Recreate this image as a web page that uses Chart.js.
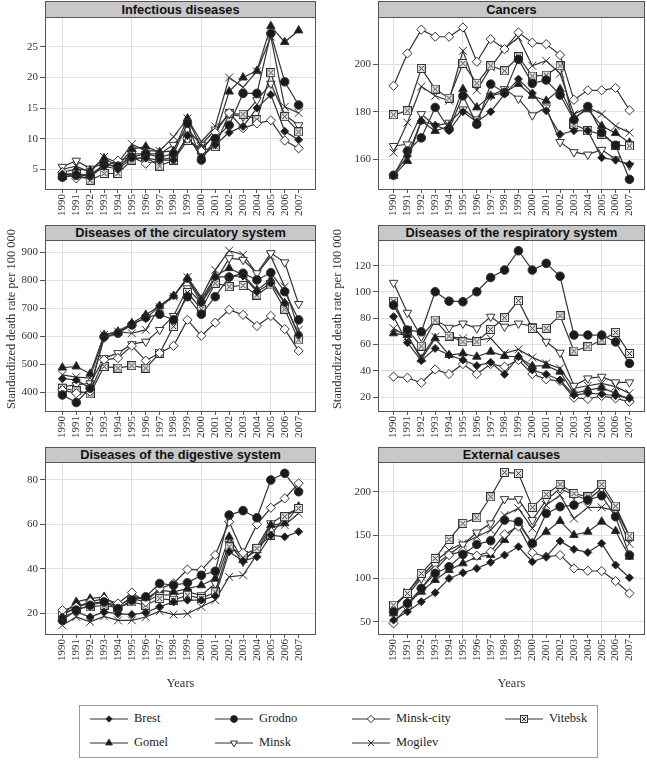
<!DOCTYPE html>
<html>
<head>
<meta charset="utf-8">
<script src="https://cdn.jsdelivr.net/npm/chart.js@4.4.0/dist/chart.umd.min.js"></script>
<style>
  body { margin: 0; background: #fff; width: 647px; height: 760px; position: relative; overflow: hidden; }
  canvas { position: absolute; }
  .strip { position: absolute; box-sizing: border-box; background: #c8c8c8; border: 1px solid #555;
           font: bold 12.8px "Liberation Sans", Arial, sans-serif; color: #111; text-align: center; }
  .legend { position: absolute; left: 79px; top: 705px; width: 519px; height: 53px; box-sizing: border-box;
            border: 1.5px solid #999; }
  .lab { position: absolute; font: 12.5px "Liberation Serif", "Times New Roman", serif; color: #222; }
  .ytitle { position: absolute; width: 240px; height: 16px; line-height: 16px; text-align: center; white-space: nowrap;
            font: 12.5px "Liberation Serif", "Times New Roman", serif; color: #333;
            transform: translate(-50%, -50%) rotate(-90deg); }
</style>
</head>
<body>
<script>
// years and regions
const years = [1990, 1991, 1992, 1993, 1994, 1995, 1996, 1997, 1998, 1999, 2000, 2001, 2002, 2003, 2004, 2005, 2006, 2007];
const regions = ['Brest', 'Grodno', 'Minsk-city', 'Vitebsk', 'Gomel', 'Minsk', 'Mogilev'];

// one row per region, same order as regions
const infectious = [
  [4.2, 4.3, 4.0, 5.5, 5.0, 6.8, 6.8, 6.5, 6.5, 10.5, 7.0, 9.0, 11.0, 12.0, 15.0, 17.2, 11.2, 9.8],
  [3.7, 4.0, 4.0, 5.8, 5.5, 7.0, 7.5, 7.0, 7.5, 12.5, 6.5, 10.0, 12.2, 17.4, 17.4, 27.2, 19.3, 15.5],
  [4.5, 3.5, 3.8, 5.5, 6.4, 7.0, 5.9, 6.5, 7.0, 10.0, 8.0, 11.0, 14.2, 11.7, 12.5, 13.0, 9.7, 8.4],
  [4.0, 4.2, 3.2, 4.3, 4.3, 6.5, 7.0, 5.5, 6.5, 9.7, 8.0, 8.7, 14.1, 14.0, 13.1, 20.8, 13.6, 11.1],
  [4.5, 5.0, 4.8, 6.8, 5.5, 8.3, 8.7, 7.8, 8.0, 13.3, 8.5, 10.5, 17.7, 20.0, 21.1, 28.4, 25.8, 27.7],
  [5.4, 6.4, 5.1, 6.0, 5.2, 7.5, 7.5, 7.5, 9.0, 11.5, 9.0, 11.5, 14.0, 13.6, 16.3, 19.0, 13.9, 12.2],
  [5.0, 5.5, 4.5, 7.0, 6.0, 9.1, 8.0, 8.0, 10.3, 13.3, 9.5, 12.0, 20.0, 18.4, 21.0, 26.7, 15.2, 14.2]
];
const cancers = [
  [153.3, 161.4, 176.1, 174.3, 172, 180, 175.7, 180, 187.4, 193.7, 187.8, 180.4, 170.5, 172, 172, 160.7, 159.7, 157.9],
  [153.3, 163.5, 169, 181.8, 172.6, 186.7, 174.7, 191.6, 188, 202, 191.9, 193.3, 187, 176.6, 182.2, 171.2, 165.9, 151.6],
  [190.9, 204.5, 214.5, 211.5, 211.5, 215.4, 201, 210.5, 206.3, 213.3, 209, 208.4, 203.8, 185, 189, 189, 190, 180.6],
  [178.7, 180.4, 198.2, 189.5, 185.7, 200.3, 192, 199.3, 197.2, 203.1, 195, 195.4, 199.3, 174.7, 172, 170.5, 166, 165.6],
  [153, 159.3, 176.1, 171.9, 174, 189.5, 181.8, 186.7, 188, 191.6, 186.7, 184.6, 189.5, 177.5, 181, 174, 171, 167],
  [165.6, 166.3, 179, 174, 175.4, 181, 176.8, 186.7, 189.5, 185.5, 178.5, 181.8, 167.3, 163, 162, 164, 160, 157.4],
  [162.8, 175.4, 190.6, 186.7, 184.6, 205.6, 189, 198.6, 206.6, 211.2, 199.3, 201.4, 196, 179, 181.8, 179, 174, 171.2]
];
const circulatory = [
  [448, 444, 414, 593, 611, 647, 663, 709, 745, 805, 719, 812, 814, 816, 760, 790, 719, 605],
  [390, 363, 414, 599, 611, 641, 668, 679, 659, 742, 679, 742, 812, 826, 802, 828, 760, 659],
  [408, 396, 402, 516, 522, 566, 513, 540, 566, 659, 602, 649, 695, 677, 637, 673, 626, 548],
  [414, 405, 394, 492, 486, 495, 486, 540, 635, 757, 697, 790, 778, 782, 748, 784, 697, 587],
  [488, 492, 466, 605, 617, 647, 677, 709, 745, 808, 731, 816, 844, 820, 766, 802, 719, 605],
  [420, 426, 432, 522, 540, 572, 581, 623, 673, 772, 719, 796, 880, 874, 826, 898, 865, 716],
  [462, 454, 450, 605, 617, 611, 623, 704, 742, 812, 740, 838, 907, 892, 824, 886, 778, 623]
];
const respiratory = [
  [81.2, 61.4, 47.7, 57, 52, 48.2, 43.9, 46.4, 37.3, 50.7, 40.6, 37.3, 33, 21.5, 22.8, 22.3, 21, 19],
  [90, 71, 69.7, 100.2, 93, 92.6, 100.2, 111, 116.7, 131.4, 116.7, 121.8, 112, 67.2, 67.2, 67.2, 62, 45.6],
  [35.5, 34.7, 30.9, 41, 37.5, 45.1, 37.5, 45.1, 43.1, 48.2, 37.5, 33.5, 32.2, 19.5, 18.5, 20.8, 19, 16.4],
  [93, 71, 58.8, 78.6, 66.4, 62.1, 62.1, 71.5, 80.4, 93.4, 72.3, 72.3, 82, 55, 58.3, 63.4, 69.2, 53.2],
  [68.5, 67.2, 48.7, 64.7, 52, 53.2, 50.7, 54.5, 51.2, 50.7, 43.6, 43.9, 39.3, 22.8, 25.3, 27.1, 22.8, 18.5],
  [107, 84.2, 66, 78.6, 72.8, 76, 72.3, 81.2, 73.6, 76, 74, 62.1, 53.8, 28.6, 34.2, 35.5, 31.2, 31.2],
  [72.3, 66, 50.7, 66, 66, 64.7, 63.4, 64.7, 53.2, 56.3, 50.2, 45.6, 41.8, 26.6, 28.6, 30.4, 27.9, 22.8]
];
const digestive = [
  [18.3, 20.6, 18.3, 20.6, 19.8, 19.4, 20.3, 22.9, 25.1, 25.9, 25.9, 27.7, 47.7, 43.5, 45.4, 55.2, 54.4, 56.7],
  [16.8, 21.4, 23.6, 25.1, 22.1, 25.9, 27.4, 33.4, 32.6, 33.7, 37.1, 38.9, 64.2, 66.2, 63, 80, 83, 74.7],
  [21.4, 22.9, 25.1, 26.6, 24.4, 29.3, 25.1, 31.1, 33.4, 39.7, 39.4, 46.2, 61.2, 47.2, 60, 67.5, 71.7, 78.5],
  [19.8, 22.1, 22.9, 23.6, 22.4, 25.1, 23.6, 26.6, 25.9, 28.1, 26.6, 29.6, 49.9, 46.2, 49.2, 55.2, 63.5, 67.2],
  [19.1, 25.1, 26.6, 27.4, 22.9, 27.4, 26.6, 30.4, 29.6, 31.1, 32.6, 35.6, 54.4, 43.9, 48.4, 59.7, 60.5, 68],
  [19.1, 22.9, 24.4, 25.1, 23.3, 26.6, 25.1, 28.4, 28.1, 29.6, 28.1, 33.4, 51.4, 43.2, 49.9, 60.5, 64.2, 67.2],
  [14.6, 18.3, 16.1, 18.6, 16.8, 16.8, 18.3, 20.9, 19.4, 19.8, 22.9, 25.9, 36.4, 37.1, 46.5, 58.9, 59.7, 65]
];
const external = [
  [51.9, 61.5, 73.1, 83.5, 100, 106.5, 111.5, 118.5, 126.9, 136.5, 119.2, 125, 143, 133.5, 130, 140.4, 115.4, 100.8],
  [61.5, 71.2, 88.5, 105.8, 113.5, 127.7, 139.2, 143.5, 167.3, 165.4, 140.4, 175, 182.7, 184.6, 190.4, 195.4, 171.2, 126.9],
  [48.1, 67.3, 88.5, 109.6, 126.9, 131.5, 126.2, 130.8, 150.8, 160, 129.6, 125, 126.9, 111.5, 108.8, 108.5, 96.9, 82.7],
  [69.2, 82.7, 105.8, 123, 145, 163.5, 170, 194.2, 222.3, 221.2, 182, 197, 208.5, 198, 194.2, 208.5, 183.5, 148.8],
  [59.6, 71.2, 84.6, 98.1, 109.6, 117.3, 125, 126.9, 144.2, 163.5, 140.4, 153.8, 166.2, 150, 153.8, 165.4, 154.6, 125],
  [70, 80.8, 100, 115.4, 127.7, 139.2, 153, 163.5, 191.5, 191.5, 167.3, 190.4, 203.8, 196.2, 190.4, 203.8, 179.6, 148],
  [65.4, 84.6, 101.9, 119.2, 132.7, 140.4, 148, 155.8, 173, 180.8, 157.7, 184.6, 196, 169, 182, 182, 178, 140]
];

// tick labels
const infectiousTicks = [5, 10, 15, 20, 25];
const cancersTicks = [160, 180, 200];
const circulatoryTicks = [400, 500, 600, 700, 800, 900];
const respiratoryTicks = [20, 40, 60, 80, 100, 120];
const digestiveTicks = [20, 40, 60, 80];
const externalTicks = [50, 100, 150, 200];

const yTitle = 'Standardized death rate per 100 000';
const xTitle = 'Years';

// ---- layout / style ----
const lineColor = '#333';
const gridColor = '#e0e0e0';
const serif = '"Liberation Serif", "Times New Roman", serif';

const cols = [
  { plotL: 45, plotR: 316, canvasL: 0, padR: 1, xmin: 1988.75, xmax: 2008.25, titleX: 12 },
  { plotL: 378, plotR: 645, canvasL: 325, padR: 2, xmin: 1988.88, xmax: 2008.12, titleX: 338 }
];
const rows = [
  { stripT: 1, plotT: 17, plotB: 190, xh: 32 },
  { stripT: 225, plotT: 240, plotB: 412, xh: 32 },
  { stripT: 447, plotT: 462, plotB: 635, xh: 56 }
];
const titleY = 319;

const panels = [
  { title: 'Infectious diseases', values: infectious, ticks: infectiousTicks, min: 1.6, max: 29.9, col: 0, row: 0 },
  { title: 'Cancers', values: cancers, ticks: cancersTicks, min: 147.1, max: 219.8, col: 1, row: 0 },
  { title: 'Diseases of the circulatory system', values: circulatory, ticks: circulatoryTicks, min: 329, max: 945, col: 0, row: 1 },
  { title: 'Diseases of the respiratory system', values: respiratory, ticks: respiratoryTicks, min: 8.6, max: 139.6, col: 1, row: 1 },
  { title: 'Diseases of the digestive system', values: digestive, ticks: digestiveTicks, min: 10.2, max: 88.1, col: 0, row: 2 },
  { title: 'External causes', values: external, ticks: externalTicks, min: 34.7, max: 234.3, col: 1, row: 2 }
];

function boxX(size) {
  const c = document.createElement('canvas');
  c.width = size; c.height = size;
  const g = c.getContext('2d');
  g.fillStyle = '#e6e6e6';
  g.fillRect(0.5, 0.5, size - 1, size - 1);
  g.strokeStyle = lineColor; g.lineWidth = 1;
  g.strokeRect(0.5, 0.5, size - 1, size - 1);
  g.beginPath();
  g.moveTo(2, 2); g.lineTo(size - 2, size - 2);
  g.moveTo(size - 2, 2); g.lineTo(2, size - 2);
  g.stroke();
  return c;
}

const markers = [
  { style: 'rectRot', r: 4, fill: '#1a1a1a', rot: 0 },
  { style: 'circle', r: 4.3, fill: '#1a1a1a', rot: 0 },
  { style: 'rectRot', r: 4.6, fill: '#fff', rot: 0 },
  { style: boxX(9), legend: boxX(8), r: 4.5, fill: '#fff', rot: 0 },
  { style: 'triangle', r: 4.9, fill: '#1a1a1a', rot: 0 },
  { style: 'triangle', r: 4.9, fill: '#fff', rot: 180 },
  { style: 'crossRot', r: 5.6, fill: '#fff', rot: 0 }
];

const frame = {
  id: 'frame',
  afterDraw(chart) {
    const a = chart.chartArea, g = chart.ctx;
    g.save();
    g.strokeStyle = '#555'; g.lineWidth = 1;
    g.strokeRect(Math.round(a.left) + 0.5, Math.round(a.top) + 0.5, Math.round(a.width) - 1, Math.round(a.height) - 1);
    g.restore();
  }
};

function makePanel(p) {
  const c = cols[p.col], r = rows[p.row];
  const yw = c.plotL - c.canvasL;

  const strip = document.createElement('div');
  strip.className = 'strip';
  strip.style.left = c.plotL + 'px';
  strip.style.top = r.stripT + 'px';
  strip.style.width = (c.plotR - c.plotL) + 'px';
  strip.style.height = (r.plotT - r.stripT + 1) + 'px';
  strip.style.lineHeight = (r.plotT - r.stripT - 1) + 'px';
  strip.textContent = p.title;
  document.body.appendChild(strip);

  if (p.row === 1) {
    const t = document.createElement('div');
    t.className = 'ytitle';
    t.style.left = c.titleX + 'px';
    t.style.top = titleY + 'px';
    t.textContent = yTitle;
    document.body.appendChild(t);
  }

  const cv = document.createElement('canvas');
  cv.width = c.plotR - c.canvasL + c.padR;
  cv.height = r.plotB - r.plotT + r.xh;
  cv.style.left = c.canvasL + 'px';
  cv.style.top = r.plotT + 'px';
  document.body.appendChild(cv);

  new Chart(cv, {
    type: 'line',
    data: {
      datasets: regions.map((name, i) => ({
        label: name,
        data: years.map((yr, j) => ({ x: yr, y: p.values[i][j] })),
        borderColor: lineColor,
        borderWidth: 1.2,
        tension: 0,
        pointStyle: markers[i].style,
        pointRotation: markers[i].rot,
        pointRadius: markers[i].r,
        pointBackgroundColor: markers[i].fill,
        pointBorderColor: lineColor,
        pointBorderWidth: 1,
        clip: false
      }))
    },
    options: {
      responsive: false,
      animation: false,
      devicePixelRatio: 1,
      layout: { padding: { left: 0, top: 0, right: c.padR, bottom: 0 }, autoPadding: false },
      plugins: { legend: { display: false }, tooltip: { enabled: false } },
      scales: {
        x: {
          type: 'linear',
          min: c.xmin, max: c.xmax,
          afterBuildTicks: s => { s.ticks = years.map(v => ({ value: v })); },
          afterFit: s => { s.height = r.xh; s.paddingLeft = 0; s.paddingRight = 0; },
          ticks: { autoSkip: false, minRotation: 90, maxRotation: 90, padding: 1,
                   font: { family: serif, size: 11 }, color: '#333', callback: v => String(v) },
          grid: { color: ctx => (ctx.tick && ctx.tick.value % 5 === 0) ? gridColor : 'rgba(0,0,0,0)',
                  tickColor: '#555', tickLength: 3 },
          border: { display: false },
          title: { display: p.row === 2, text: xTitle, color: '#333', padding: { top: 0, bottom: 0 },
                   font: { family: serif, size: 12.5 } }
        },
        y: {
          min: p.min, max: p.max,
          afterBuildTicks: s => { s.ticks = p.ticks.map(v => ({ value: v })); },
          afterFit: s => { s.width = yw; s.paddingTop = 0; s.paddingBottom = 0; },
          ticks: { padding: 2, font: { family: serif, size: 11 }, color: '#333' },
          grid: { color: gridColor, tickColor: '#555', tickLength: 5 },
          border: { display: false }
        }
      }
    },
    plugins: [frame]
  });
}

panels.forEach(makePanel);

// ---- legend ----
const legendCols = [90, 215, 352, 505];
const legendRows = [719, 743];
const legendOrder = [[0, 1, 2, 3], [4, 5, 6]];

const box = document.createElement('div');
box.className = 'legend';
document.body.appendChild(box);

legendOrder.forEach((row, ri) => {
  row.forEach((idx, ci) => {
    const m = markers[idx];
    const x = legendCols[ci], y = legendRows[ri];
    const s = document.createElement('canvas');
    s.width = 42; s.height = 14;
    s.style.left = (x - 1) + 'px';
    s.style.top = (y - 7) + 'px';
    document.body.appendChild(s);
    const g = s.getContext('2d');
    g.strokeStyle = lineColor; g.lineWidth = 1.2;
    g.beginPath(); g.moveTo(1, 7); g.lineTo(39, 7); g.stroke();
    g.fillStyle = m.fill; g.strokeStyle = lineColor; g.lineWidth = 1;
    Chart.helpers.drawPoint(g, { pointStyle: m.legend || m.style, rotation: m.rot, radius: m.r * 0.8, borderWidth: 1 }, 20, 7);

    const t = document.createElement('div');
    t.className = 'lab';
    t.style.left = (x + 44) + 'px';
    t.style.top = (y - 8) + 'px';
    t.textContent = regions[idx];
    document.body.appendChild(t);
  });
});
</script>
</body>
</html>
